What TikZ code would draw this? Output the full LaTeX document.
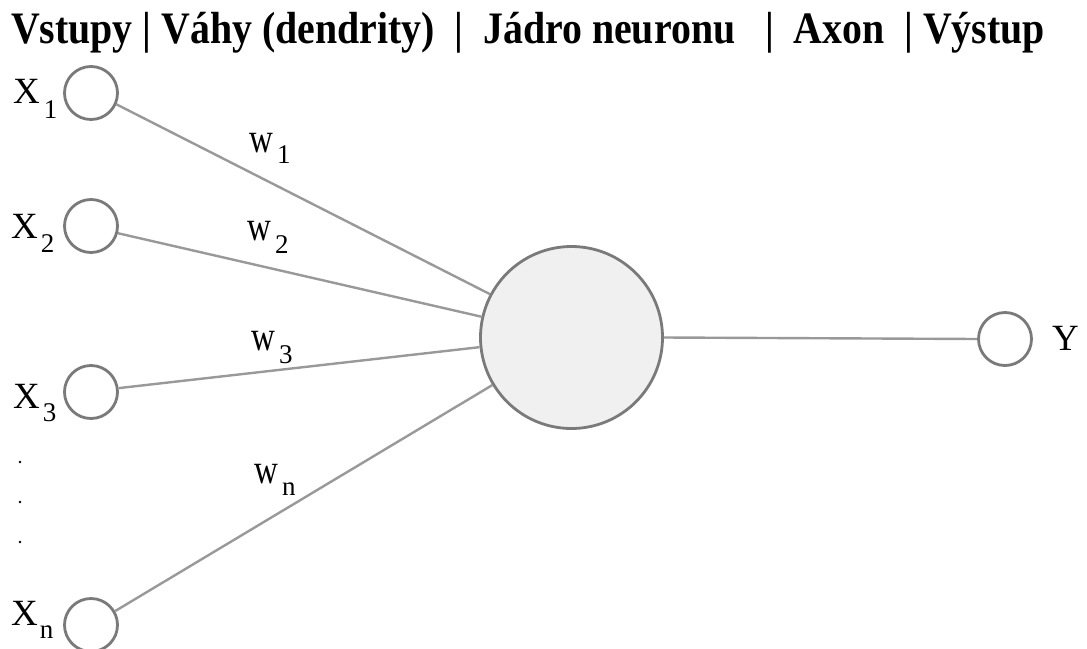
\documentclass[tikz,border=0pt]{standalone}
\usepackage{fontspec}
\setmainfont{Liberation Serif}
\newcommand\mysub[2]{\raisebox{-#1}{\fontsize{27}{27}\selectfont #2}}
\newcommand\wlet{\scalebox{1}[1.27]{w}}
\begin{document}
\begin{tikzpicture}[x=1pt,y=-1pt,
  unit/.style={circle,draw=black!52,line width=2.8pt,minimum size=53pt,inner sep=0pt},
  core/.style={circle,draw=black!52,line width=2.8pt,fill=black!6,minimum size=182pt,inner sep=0pt},
  conn/.style={draw=black!40,line width=2.4pt},
  xlab/.style={font=\fontsize{37}{37}\selectfont,inner sep=0pt,anchor=base west},
  wlab/.style={font=\fontsize{33}{33}\selectfont,inner sep=0pt,anchor=base west},
  title/.style={font=\fontsize{45}{45}\selectfont\bfseries,inner sep=0pt,anchor=base west},
  dotm/.style={circle,fill=black,inner sep=0pt,minimum size=2.6pt}]
\useasboundingbox (0,0) rectangle (1087,648);
\clip (0,0) rectangle (1087,648);
\fill[white] (0,0) rectangle (1087,648);
\node[title] (t) at (11,43) {\scalebox{0.885}[1]{Vstupy | Váhy (dendrity) \ | \ Jádro neuronu \ \ | \ Axon \ | Výstup}};
\node[unit] (x1) at (91,93) {};
\node[unit] (x2) at (91,226) {};
\node[unit] (x3) at (91,392) {};
\node[unit] (xn) at (91,625) {};
\node[core] (c) at (571.5,337.5) {};
\node[unit] (y) at (1005,339) {};
\draw[conn] (x1.-24) -- (c.152.5);
\draw[conn] (x2.-15) -- (c.167);
\draw[conn] (x3.8) -- (c.186);
\draw[conn] (xn.30) -- (c.211);
\draw[conn] (c.east) -- (y.west);
\node[xlab] (lx1) at (13,103) {X\hspace{4pt}\mysub{15pt}{1}};
\node[xlab] (lx2) at (11,238) {X\hspace{3pt}\mysub{14pt}{2}};
\node[xlab] (lx3) at (13,408) {X\hspace{3pt}\mysub{13pt}{3}};
\node[xlab] (lxn) at (11,625) {X\hspace{2pt}\mysub{13pt}{n}};
\node[xlab] (ly) at (1052,350) {Y};
\node[wlab] (w1) at (249,152) {\wlet\hspace{4pt}\mysub{11pt}{1}};
\node[wlab] (w2) at (247,240) {\wlet\hspace{4pt}\mysub{13pt}{2}};
\node[wlab] (w3) at (251,350) {\wlet\hspace{4pt}\mysub{13pt}{3}};
\node[wlab] (wn) at (254,483) {\wlet\hspace{4pt}\mysub{12pt}{n}};
\node[dotm] (d1) at (20,462) {};
\node[dotm] (d2) at (20,502) {};
\node[dotm] (d3) at (20,542) {};
\end{tikzpicture}
\end{document}
